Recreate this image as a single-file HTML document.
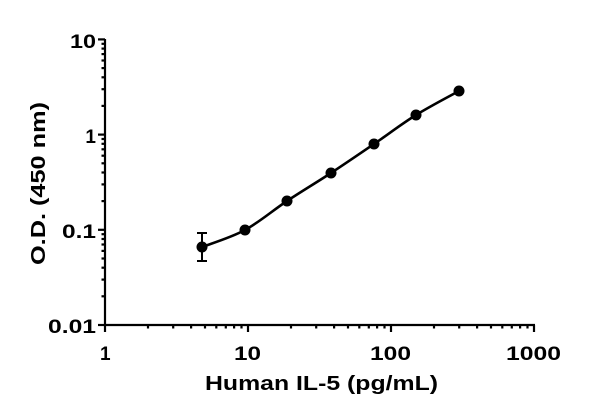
<!DOCTYPE html>
<html><head><meta charset="utf-8"><style>
html,body{margin:0;padding:0;background:#fff;}
svg{display:block;}
text{font-family:"Liberation Sans",sans-serif;font-weight:bold;fill:#000;}
</style></head><body>
<svg width="600" height="414" viewBox="0 0 600 414" xmlns="http://www.w3.org/2000/svg">
<g id="ax" stroke="#000" stroke-width="2.2" fill="none"></g>
<path id="cv" d="" stroke="#000" stroke-width="2.6" fill="none"/>
<g stroke="#000" stroke-width="2">
<line x1="202" y1="233" x2="202" y2="261"/>
<line x1="197" y1="233" x2="207" y2="233"/>
<line x1="197" y1="261" x2="207" y2="261"/>
</g>
<g fill="#000">
<circle cx="202" cy="247" r="5.5"/><circle cx="245" cy="230" r="5.5"/><circle cx="287" cy="201" r="5.5"/>
<circle cx="331" cy="173" r="5.5"/><circle cx="374" cy="144" r="5.5"/><circle cx="416" cy="115" r="5.5"/>
<circle cx="459" cy="91" r="5.5"/>
</g>
<g font-size="19" text-anchor="end">
<text x="96" y="48" textLength="26" lengthAdjust="spacingAndGlyphs">10</text>
<text x="96" y="143">1</text>
<text x="96" y="238" textLength="34" lengthAdjust="spacingAndGlyphs">0.1</text>
<text x="96" y="333" textLength="48" lengthAdjust="spacingAndGlyphs">0.01</text>
</g>
<g font-size="19">
<text x="100" y="360">1</text>
<text x="234" y="360" textLength="27" lengthAdjust="spacingAndGlyphs">10</text>
<text x="370" y="360" textLength="41" lengthAdjust="spacingAndGlyphs">100</text>
<text x="506" y="360" textLength="55" lengthAdjust="spacingAndGlyphs">1000</text>
</g>
<text x="205" y="390" font-size="20" textLength="233" lengthAdjust="spacingAndGlyphs">Human IL-5 (pg/mL)</text>
<text transform="translate(45,265) rotate(-90)" font-size="20" textLength="163" lengthAdjust="spacingAndGlyphs">O.D. (450 nm)</text>
</svg>
<script>
var g=document.getElementById('ax'),s='';
var X0=105,Y0=325,dx=143,dy=95.2;
s+='<line x1="'+X0+'" y1="39" x2="'+X0+'" y2="'+(Y0+1)+'"/>';
s+='<line x1="'+(X0-1)+'" y1="'+Y0+'" x2="535" y2="'+Y0+'"/>';
for(var d=0;d<3;d++){for(var k=1;k<10;k++){var l=Math.log10(k);
var x=X0+dx*(d+l);var y=Y0-dy*(d+l);
var L=k==1?7:3.5;
s+='<line x1="'+x.toFixed(1)+'" y1="'+Y0+'" x2="'+x.toFixed(1)+'" y2="'+(Y0+L)+'"/>';
s+='<line x1="'+X0+'" y1="'+y.toFixed(1)+'" x2="'+(X0-L)+'" y2="'+y.toFixed(1)+'"/>';}}
s+='<line x1="534" y1="'+Y0+'" x2="534" y2="'+(Y0+7)+'"/>';
s+='<line x1="'+X0+'" y1="'+(Y0-3*dy)+'" x2="'+(X0-7)+'" y2="'+(Y0-3*dy)+'"/>';
g.innerHTML=s;
var p=[[202,247],[245,230],[287,201],[331,173],[374,144],[416,115],[459,91]];
var d='M'+p[0][0]+','+p[0][1];
for(var i=0;i<p.length-1;i++){var a=p[Math.max(i-1,0)],b=p[i],c=p[i+1],e=p[Math.min(i+2,p.length-1)];
d+=' C'+(b[0]+(c[0]-a[0])/6).toFixed(1)+','+(b[1]+(c[1]-a[1])/6).toFixed(1)+' '+(c[0]-(e[0]-b[0])/6).toFixed(1)+','+(c[1]-(e[1]-b[1])/6).toFixed(1)+' '+c[0]+','+c[1];}
document.getElementById('cv').setAttribute('d',d);
</script>
</body></html>
